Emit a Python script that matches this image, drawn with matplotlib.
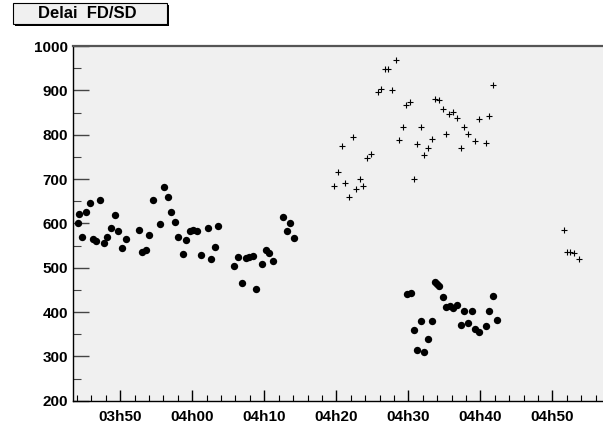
import matplotlib
matplotlib.use("Agg")
import matplotlib.pyplot as plt
from matplotlib.patches import Rectangle
from matplotlib.ticker import MultipleLocator, FuncFormatter

plt.rcParams['font.family'] = ['Liberation Sans', 'DejaVu Sans']
plt.rcParams['font.weight'] = 'bold'

# time in minutes after 03h00, delay values
fd_t = [44.08, 44.22, 44.68, 45.19, 45.75, 46.17, 46.67, 47.22, 47.69, 48.19,
        48.71, 49.22, 49.72, 50.19, 50.75, 52.56, 53.06, 53.53, 54.03, 54.54,
        55.56, 56.07, 56.58, 57.08, 57.56, 58.06, 58.67, 59.13, 59.68, 60.14,
        60.61, 61.17, 62.14, 62.60, 63.11, 63.61, 65.83, 66.35, 66.86, 67.42,
        67.88, 68.39, 68.85, 69.68, 70.19, 70.69, 71.21, 72.60, 73.11, 73.57,
        74.08,
        89.78, 90.33, 90.75, 91.25, 91.76, 92.22, 92.74, 93.25, 93.75, 94.03,
        94.31, 94.78, 95.28, 95.79, 96.25, 96.76, 97.28, 97.74, 98.29, 98.81,
        99.31, 99.78, 100.79, 101.25, 101.76, 102.28]
fd_v = [601, 620, 569, 625, 646, 565, 561, 653, 555, 569,
        590, 618, 582, 545, 565, 584, 535, 539, 574, 653,
        598, 682, 659, 626, 604, 569, 530, 562, 583, 584,
        583, 529, 590, 520, 546, 595, 503, 525, 465, 522,
        525, 527, 452, 509, 541, 534, 514, 615, 583, 601,
        566,
        441, 443, 360, 315, 380, 310, 339, 380, 468, 463,
        459, 434, 412, 414, 408, 416, 371, 402, 375, 402,
        361, 356, 368, 402, 437, 381]

sd_t = [79.72, 80.28, 80.75, 81.21, 81.76, 82.28, 82.74, 83.25, 83.75, 84.31,
        84.78, 85.75, 86.21, 86.76, 87.22, 87.78, 88.29, 88.71, 89.31, 89.72,
        90.24, 90.75, 91.25, 91.81, 92.22, 92.78, 93.29, 93.71, 94.22, 94.78,
        95.24, 95.65, 96.25, 96.76, 97.28, 97.74, 98.25, 99.26, 99.82, 100.75,
        101.25, 101.76,
        111.67, 112.00, 112.46, 113.01, 113.67]
sd_v = [684, 715, 774, 690, 659, 794, 678, 699, 684, 748,
        756, 896, 902, 948, 949, 901, 968, 787, 817, 866,
        873, 701, 780, 817, 754, 770, 791, 880, 879, 857,
        801, 847, 852, 838, 770, 817, 801, 786, 836, 781,
        842, 912,
        585, 535, 535, 533, 520]

fig = plt.figure(figsize=(6.03, 4.28), dpi=100)
ax = fig.add_axes([72.7 / 603, 1 - 400.7 / 428, (603 - 72.7) / 603, (400.7 - 46) / 428])
ax.set_facecolor('#f0f0f0')

ax.plot(fd_t, fd_v, 'o', color='black', markersize=5.3, markeredgewidth=0)
ax.plot(sd_t, sd_v, '+', color='black', markersize=4.4, markeredgewidth=0.8)

ax.set_xlim(43.39, 117.04)
ax.set_ylim(200, 1000)

ax.xaxis.set_major_locator(MultipleLocator(10))
ax.xaxis.set_minor_locator(MultipleLocator(2))
ax.xaxis.set_major_formatter(FuncFormatter(lambda m, p: '%02dh%02d' % (3 + int(m) // 60, int(m) % 60)))
ax.yaxis.set_major_locator(MultipleLocator(100))
ax.yaxis.set_minor_locator(MultipleLocator(50))

ax.tick_params(axis='x', which='major', direction='in', length=8, width=1, labelsize=11, pad=7)
ax.tick_params(axis='x', which='minor', direction='in', length=4.5, width=0.8)
ax.tick_params(axis='y', which='major', direction='in', length=11.5, width=1, color='#444444', labelsize=11, pad=3.5)
ax.tick_params(axis='y', which='minor', direction='in', length=6, width=0.8, color='#444444')

ax.spines['right'].set_visible(False)
ax.spines['top'].set_color('#555555')
ax.spines['top'].set_linewidth(1.6)
ax.spines['left'].set_linewidth(1)
ax.spines['bottom'].set_linewidth(1)

# title box with shadow
fig.patches.append(Rectangle((14.7 / 603, 1 - 26 / 428), 154 / 603, 21 / 428,
                             transform=fig.transFigure, facecolor='black', edgecolor='none'))
fig.patches.append(Rectangle((12.7 / 603, 1 - 24 / 428), 154 / 603, 20.7 / 428,
                             transform=fig.transFigure, facecolor='#f0f0f0', edgecolor='black', linewidth=0.8))
fig.text(87 / 603, 1 - 14 / 428, 'Delai  FD/SD', ha='center', va='center', fontsize=12, fontweight='bold')

fig.savefig('out.png', dpi=100)
